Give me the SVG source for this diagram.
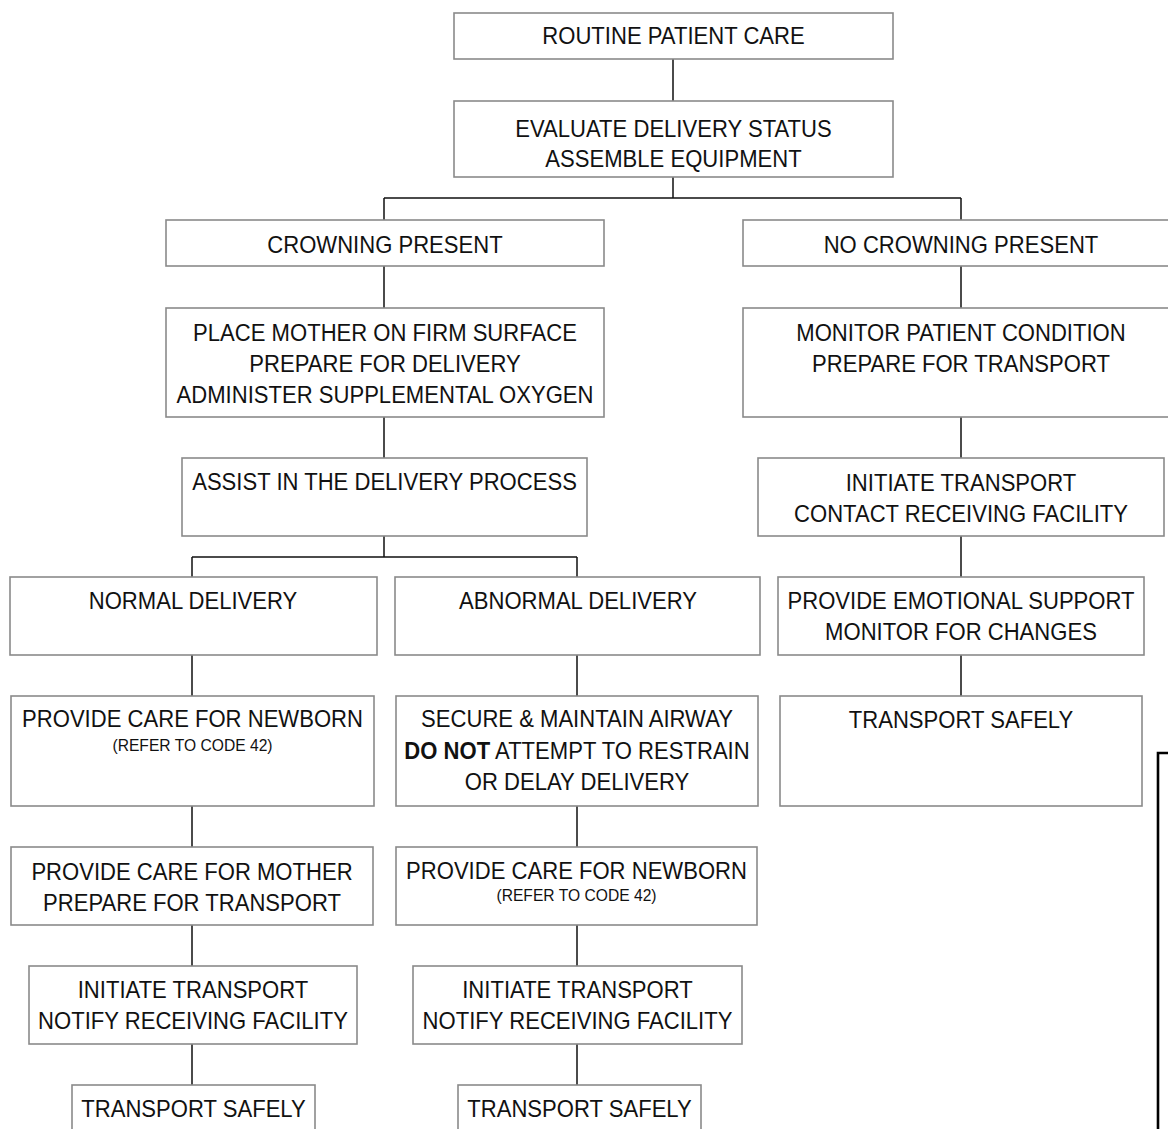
<svg xmlns="http://www.w3.org/2000/svg" width="1168" height="1129" viewBox="0 0 1168 1129">
  <style>
    .box { fill: #ffffff; stroke: #8a8a8a; stroke-width: 1.6; }
    .link { fill: none; stroke: #111111; stroke-width: 1.5; }
    .bracket { fill: none; stroke: #000000; stroke-width: 2.6; }
    .t { font-family: "Liberation Sans", Arial, sans-serif; font-size: 24px; fill: #111111; text-anchor: middle; }
    .s { font-family: "Liberation Sans", Arial, sans-serif; font-size: 17px; fill: #111111; text-anchor: middle; }
    .b { font-weight: bold; }
  </style>
  <rect width="1168" height="1129" fill="#ffffff"/>

  <!-- connectors -->
  <g id="connectors">
    <path class="link" d="M673,59 V101 M673,177 V198 M384,198 H961 M384,198 V220 M961,198 V220"/>
    <path class="link" d="M384,266 V308 M384,417 V458 M384,536 V557 M192,557 H577 M192,557 V577 M577,557 V577"/>
    <path class="link" d="M192,655 V696 M192,806 V847 M192,925 V966 M192,1044 V1085"/>
    <path class="link" d="M577,655 V696 M577,806 V847 M577,925 V966 M577,1044 V1085"/>
    <path class="link" d="M961,266 V308 M961,417 V458 M961,536 V577 M961,655 V696"/>
  </g>

  <g id="routine-care">
    <rect class="box" x="454" y="13" width="439" height="46"/>
    <text class="t" transform="translate(673.5 44) scale(0.92 1)">ROUTINE PATIENT CARE</text>
  </g>
  <g id="evaluate-status">
    <rect class="box" x="454" y="101" width="439" height="76"/>
    <text class="t" transform="translate(673.5 137) scale(0.92 1)">EVALUATE DELIVERY STATUS</text>
    <text class="t" transform="translate(673.5 167) scale(0.92 1)">ASSEMBLE EQUIPMENT</text>
  </g>
  <g id="crowning-present">
    <rect class="box" x="166" y="220" width="438" height="46"/>
    <text class="t" transform="translate(385 252.5) scale(0.92 1)">CROWNING PRESENT</text>
  </g>
  <g id="no-crowning">
    <rect class="box" x="743" y="220" width="440" height="46"/>
    <text class="t" transform="translate(961 252.5) scale(0.92 1)">NO CROWNING PRESENT</text>
  </g>
  <g id="place-mother">
    <rect class="box" x="166" y="308" width="438" height="109"/>
    <text class="t" transform="translate(385 341) scale(0.92 1)">PLACE MOTHER ON FIRM SURFACE</text>
    <text class="t" transform="translate(385 372) scale(0.92 1)">PREPARE FOR DELIVERY</text>
    <text class="t" transform="translate(385 403) scale(0.92 1)">ADMINISTER SUPPLEMENTAL OXYGEN</text>
  </g>
  <g id="monitor-patient">
    <rect class="box" x="743" y="308" width="440" height="109"/>
    <text class="t" transform="translate(961 341) scale(0.92 1)">MONITOR PATIENT CONDITION</text>
    <text class="t" transform="translate(961 372) scale(0.92 1)">PREPARE FOR TRANSPORT</text>
  </g>
  <g id="assist-delivery">
    <rect class="box" x="182" y="458" width="405" height="78"/>
    <text class="t" transform="translate(384.5 490) scale(0.92 1)">ASSIST IN THE DELIVERY PROCESS</text>
  </g>
  <g id="initiate-contact">
    <rect class="box" x="758" y="458" width="406" height="78"/>
    <text class="t" transform="translate(961 490.5) scale(0.92 1)">INITIATE TRANSPORT</text>
    <text class="t" transform="translate(961 521.5) scale(0.92 1)">CONTACT RECEIVING FACILITY</text>
  </g>
  <g id="normal-delivery">
    <rect class="box" x="10" y="577" width="367" height="78"/>
    <text class="t" transform="translate(193 609) scale(0.92 1)">NORMAL DELIVERY</text>
  </g>
  <g id="abnormal-delivery">
    <rect class="box" x="395" y="577" width="365" height="78"/>
    <text class="t" transform="translate(578 609) scale(0.92 1)">ABNORMAL DELIVERY</text>
  </g>
  <g id="emotional-support">
    <rect class="box" x="778" y="577" width="366" height="78"/>
    <text class="t" transform="translate(961 609) scale(0.92 1)">PROVIDE EMOTIONAL SUPPORT</text>
    <text class="t" transform="translate(961 640) scale(0.92 1)">MONITOR FOR CHANGES</text>
  </g>
  <g id="newborn-care-normal">
    <rect class="box" x="11" y="696" width="363" height="110"/>
    <text class="t" transform="translate(192.5 727) scale(0.92 1)">PROVIDE CARE FOR NEWBORN</text>
    <text class="s" transform="translate(192.5 751) scale(0.92 1)">(REFER TO CODE 42)</text>
  </g>
  <g id="secure-airway">
    <rect class="box" x="396" y="696" width="362" height="110"/>
    <text class="t" transform="translate(577 727) scale(0.92 1)">SECURE &amp; MAINTAIN AIRWAY</text>
    <text class="t" transform="translate(577 759) scale(0.92 1)"><tspan class="b">DO NOT</tspan> ATTEMPT TO RESTRAIN</text>
    <text class="t" transform="translate(577 790) scale(0.92 1)">OR DELAY DELIVERY</text>
  </g>
  <g id="transport-safely-right">
    <rect class="box" x="780" y="696" width="362" height="110"/>
    <text class="t" transform="translate(961 727.5) scale(0.92 1)">TRANSPORT SAFELY</text>
  </g>
  <g id="mother-care">
    <rect class="box" x="11" y="847" width="362" height="78"/>
    <text class="t" transform="translate(192 879.5) scale(0.92 1)">PROVIDE CARE FOR MOTHER</text>
    <text class="t" transform="translate(192 910.5) scale(0.92 1)">PREPARE FOR TRANSPORT</text>
  </g>
  <g id="newborn-care-abnormal">
    <rect class="box" x="396" y="847" width="361" height="78"/>
    <text class="t" transform="translate(576.5 878.5) scale(0.92 1)">PROVIDE CARE FOR NEWBORN</text>
    <text class="s" transform="translate(576.5 901) scale(0.92 1)">(REFER TO CODE 42)</text>
  </g>
  <g id="initiate-notify-normal">
    <rect class="box" x="29" y="966" width="328" height="78"/>
    <text class="t" transform="translate(193 998) scale(0.92 1)">INITIATE TRANSPORT</text>
    <text class="t" transform="translate(193 1029) scale(0.92 1)">NOTIFY RECEIVING FACILITY</text>
  </g>
  <g id="initiate-notify-abnormal">
    <rect class="box" x="413" y="966" width="329" height="78"/>
    <text class="t" transform="translate(577.5 998) scale(0.92 1)">INITIATE TRANSPORT</text>
    <text class="t" transform="translate(577.5 1029) scale(0.92 1)">NOTIFY RECEIVING FACILITY</text>
  </g>
  <g id="transport-safely-normal">
    <rect class="box" x="72" y="1085" width="243" height="60"/>
    <text class="t" transform="translate(193.5 1117) scale(0.92 1)">TRANSPORT SAFELY</text>
  </g>
  <g id="transport-safely-abnormal">
    <rect class="box" x="458" y="1085" width="243" height="60"/>
    <text class="t" transform="translate(579.5 1117) scale(0.92 1)">TRANSPORT SAFELY</text>
  </g>

  <!-- side bracket -->
  <path class="bracket" d="M1168,753 H1158 V1129"/>
</svg>
